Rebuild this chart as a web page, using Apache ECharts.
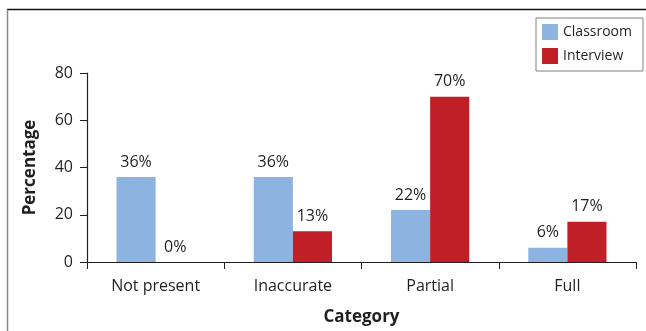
<!DOCTYPE html>
<html>
<head>
<meta charset="utf-8">
<script src="https://cdn.jsdelivr.net/npm/echarts@6/dist/echarts.min.js"></script>
<style>
  html, body { margin: 0; padding: 0; background: #fff; }
  #chart { width: 646px; height: 331px; }
</style>
</head>
<body>
<div id="chart"></div>
<script>
// Share of responses per category, classroom vs interview
const categories = ['Not present', 'Inaccurate', 'Partial', 'Full'];
const classroom = [36, 36, 22, 6];
const interview = [0, 13, 70, 17];
const yTicks = [0, 20, 40, 60, 80];

const FONT = '"Open Sans", "Liberation Sans", sans-serif';
const chart = echarts.init(document.getElementById('chart'), null, { renderer: 'canvas' });

const labelStyle = {
  show: true,
  position: 'top',
  distance: 7,
  formatter: p => p.value + '%',
  fontFamily: FONT,
  fontSize: 16,
  color: '#231f20'
};

chart.setOption({
  animation: false,
  textStyle: { fontFamily: FONT },
  graphic: [
    { type: 'line', shape: { x1: 7, y1: 9.5, x2: 646, y2: 9.5 }, style: { stroke: '#111', lineWidth: 1.5 } },
    { type: 'line', shape: { x1: 7.5, y1: 9.5, x2: 7.5, y2: 331 }, style: { stroke: '#8a8a8a', lineWidth: 1.5 } }
  ],
  legend: {
    left: 536,
    top: 18,
    orient: 'vertical',
    itemWidth: 16,
    itemHeight: 16,
    itemGap: 8,
    padding: [6, 11, 7, 6],
    borderColor: '#808080',
    borderWidth: 1,
    icon: 'rect',
    textStyle: { fontFamily: FONT, fontSize: 14, color: '#231f20' },
    data: ['Classroom', 'Interview']
  },
  grid: { left: 87, right: 10, top: 73, bottom: 67 },
  xAxis: {
    type: 'category',
    data: categories,
    name: 'Category',
    nameLocation: 'middle',
    nameGap: 47,
    nameTextStyle: { fontFamily: FONT, fontSize: 17, fontWeight: 'bold', color: '#231f20' },
    axisLine: { lineStyle: { color: '#231f20', width: 1.2 } },
    axisTick: { show: true, length: 7, alignWithLabel: false, lineStyle: { color: '#231f20' } },
    axisLabel: { fontFamily: FONT, fontSize: 16, color: '#231f20', margin: 16 }
  },
  yAxis: {
    type: 'value',
    min: yTicks[0],
    max: yTicks[yTicks.length - 1],
    interval: 20,
    name: 'Percentage',
    nameLocation: 'middle',
    nameGap: 48,
    nameTextStyle: { fontFamily: FONT, fontSize: 17, fontWeight: 'bold', color: '#231f20' },
    axisLine: { show: true, lineStyle: { color: '#231f20', width: 1.2 } },
    axisTick: { show: true, length: 7, inside: false, lineStyle: { color: '#231f20' } },
    axisLabel: { fontFamily: FONT, fontSize: 16, color: '#231f20', margin: 14 },
    splitLine: { show: false }
  },
  series: [
    {
      name: 'Classroom',
      type: 'bar',
      data: classroom,
      barGap: '0%',
      barCategoryGap: '43%',
      itemStyle: { color: '#8db3e0' },
      label: labelStyle
    },
    {
      name: 'Interview',
      type: 'bar',
      data: interview,
      itemStyle: { color: '#c01f27' },
      label: labelStyle
    }
  ]
});
</script>
</body>
</html>
